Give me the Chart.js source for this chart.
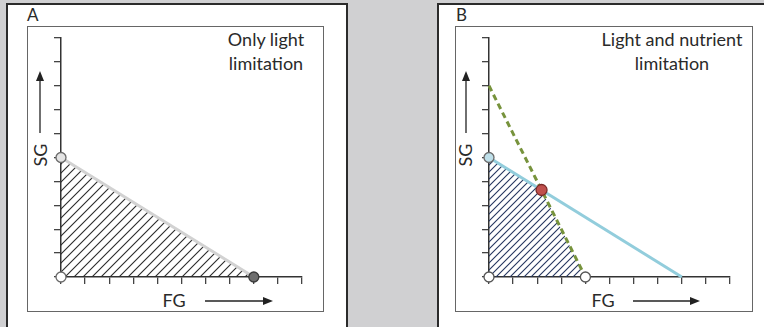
<!DOCTYPE html>
<html>
<head>
<meta charset="utf-8">
<script src="https://cdn.jsdelivr.net/npm/chart.js@4"></script>
<style>
  body { margin: 0; width: 764px; height: 327px; background: #d0d0d2; overflow: hidden; position: relative; font-family: Lato, "Open Sans", sans-serif; color: #2a2a2a; }
  .panel { position: absolute; top: 3px; height: 340px; background: #fff; border: 2px solid #2b2b2b; box-sizing: border-box; }
  .frame { position: absolute; border: 1.5px solid #666; box-sizing: border-box; }
  .letter { position: absolute; font-size: 17px; line-height: 17px; }
  .note { position: absolute; font-size: 18px; line-height: 24px; text-align: center; }
  .axlabel { position: absolute; font-size: 18px; line-height: 18px; white-space: nowrap; }
  canvas { position: absolute; top: 0; }
  svg { position: absolute; left: 0; top: 0; }
</style>
</head>
<body>
<div class="panel" style="left:6px; width:342px;"></div>
<div class="panel" style="left:437px; width:340px;"></div>
<div class="frame" style="left:27px; top:26px; width:297px; height:286px;"></div>
<div class="frame" style="left:455px; top:26px; width:298px; height:286px;"></div>

<div class="letter" style="left:27px; top:6px;">A</div>
<div class="letter" style="left:456px; top:6px;">B</div>
<div class="note" style="left:216px; top:27px; width:100px;">Only light<br>limitation</div>
<div class="note" style="left:587px; top:27px; width:170px;">Light and nutrient<br>limitation</div>

<div class="axlabel" style="left:40px; top:155px; transform: translate(-50%,-50%) rotate(-90deg);">SG</div>
<div class="axlabel" style="left:174px; top:300px; transform: translate(-50%,-50%);">FG</div>
<div class="axlabel" style="left:465px; top:155px; transform: translate(-50%,-50%) rotate(-90deg);">SG</div>
<div class="axlabel" style="left:603px; top:300px; transform: translate(-50%,-50%);">FG</div>

<svg width="764" height="327">
  <g stroke="#222" stroke-width="1.3" fill="#222">
    <line x1="40" y1="133" x2="40" y2="80" />
    <polygon points="40,71 36,81 44,81" stroke="none" />
    <line x1="205" y1="301" x2="264" y2="301" />
    <polygon points="273,301 263,297 263,305" stroke="none" />
    <line x1="466" y1="133" x2="466" y2="80" />
    <polygon points="466,71 462,81 470,81" stroke="none" />
    <line x1="633" y1="301" x2="691" y2="301" />
    <polygon points="700,301 690,297 690,305" stroke="none" />
  </g>
</svg>

<canvas id="chartA" width="350" height="327" style="left:0px;"></canvas>
<canvas id="chartB" width="334" height="327" style="left:430px;"></canvas>

<script>
// axis range, both panels
const axisMax = 10;

// panel A: light limitation only
const lightFG = [0, 8];
const lightSG = [5, 0];

// panel B: nutrient limitation line
const nutrientFG = [0, 4];
const nutrientSG = [8, 0];

// panel B: co-limitation point (where the two lines cross)
const crossFG = [2.18];
const crossSG = [3.64];

// marked points on the axes
const pointsA_FG = [0, 0, 8];
const pointsA_SG = [5, 0, 0];
const pointsB_FG = [0, 0, 4];
const pointsB_SG = [5, 0, 0];

function toXY(xs, ys) {
  return xs.map((x, i) => ({ x: x, y: ys[i] }));
}

//Diagonal hatch pattern for the feasible area
function makeHatch(color, gap, width) {
  const c = document.createElement("canvas");
  c.width = gap;
  c.height = gap;
  const g = c.getContext("2d");
  g.strokeStyle = color;
  g.lineWidth = width;
  g.beginPath();
  g.moveTo(0, gap);
  g.lineTo(gap, 0);
  g.moveTo(-1, 1);
  g.lineTo(1, -1);
  g.moveTo(gap - 1, gap + 1);
  g.lineTo(gap + 1, gap - 1);
  g.stroke();
  return g.createPattern(c, "repeat");
}

function axisScale() {
  return {
    type: "linear",
    min: 0,
    max: axisMax,
    ticks: { display: false, stepSize: 1 },
    grid: { drawOnChartArea: false, drawTicks: true, tickLength: 7, color: "#444", lineWidth: 1.3 },
    border: { display: true, color: "#333", width: 1.5 },
  };
}

function baseOptions(padding) {
  return {
    responsive: false,
    animation: false,
    layout: { padding: padding },
    plugins: { legend: { display: false }, tooltip: { enabled: false } },
    scales: { x: axisScale(), y: axisScale() },
  };
}

//Panel A
new Chart(document.getElementById("chartA").getContext("2d"), {
  type: "scatter",
  data: {
    datasets: [
      {
        data: toXY(pointsA_FG, pointsA_SG),
        pointRadius: 5,
        pointBorderWidth: 1.3,
        pointBackgroundColor: ["#e4e4e4", "#ffffff", "#6e6e6e"],
        pointBorderColor: ["#6a6a6a", "#6a6a6a", "#3a3a3a"],
        clip: false,
      },
      {
        data: toXY(lightFG, lightSG),
        showLine: true,
        pointRadius: 0,
        borderColor: "#d2d2d2",
        borderWidth: 3,
        fill: "origin",
        backgroundColor: makeHatch("#2a2a2a", 9, 1.1),
        clip: false,
      },
    ],
  },
  options: baseOptions({ left: 54, top: 38, right: 48, bottom: 43 }),
});

//Panel B
new Chart(document.getElementById("chartB").getContext("2d"), {
  type: "scatter",
  data: {
    datasets: [
      {
        data: toXY(crossFG, crossSG),
        pointRadius: 5.5,
        pointBorderWidth: 1.3,
        pointBackgroundColor: "#c0504d",
        pointBorderColor: "#7a2b28",
        clip: false,
      },
      {
        data: toXY(pointsB_FG, pointsB_SG),
        pointRadius: 5,
        pointBorderWidth: 1.3,
        pointBackgroundColor: ["#bfe0ea", "#ffffff", "#ffffff"],
        pointBorderColor: ["#6a6a6a", "#555555", "#555555"],
        clip: false,
      },
      {
        data: toXY(nutrientFG, nutrientSG),
        showLine: true,
        pointRadius: 0,
        borderColor: "#77933c",
        borderWidth: 3,
        borderDash: [6, 4],
        clip: false,
      },
      {
        data: toXY(lightFG, lightSG),
        showLine: true,
        pointRadius: 0,
        borderColor: "#92cddc",
        borderWidth: 3,
        clip: false,
      },
      {
        data: toXY([pointsB_FG[0]].concat(crossFG, nutrientFG[1]), [pointsB_SG[0]].concat(crossSG, nutrientSG[1])),
        showLine: true,
        pointRadius: 0,
        borderWidth: 0,
        fill: "origin",
        backgroundColor: makeHatch("#25365f", 7, 1.1),
      },
    ],
  },
  options: baseOptions({ left: 52, top: 38, right: 34, bottom: 43 }),
});
</script>
</body>
</html>
